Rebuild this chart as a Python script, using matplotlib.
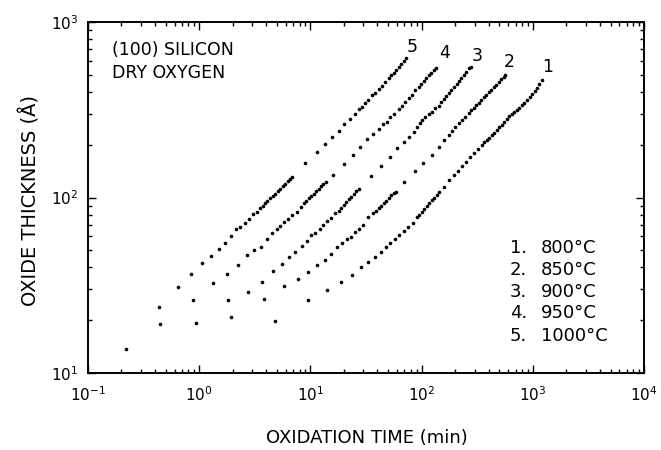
import matplotlib
matplotlib.use("Agg")
import matplotlib.pyplot as plt
from matplotlib.ticker import LogLocator, LogFormatterMathtext, NullFormatter

# ---- data: oxidation time (min) vs oxide thickness (Angstrom) ----
t1 = [4.81, 9.60, 14.2, 18.9, 23.8, 28.4, 33.3, 38.3, 43.4, 47.4, 52.3, 57.6, 63.0, 68.9, 75.9,
      83.7, 90.9, 95.4, 100, 106, 111, 117, 124, 130, 137, 143, 160, 175, 194, 211, 231, 251,
      275, 294, 320, 350, 367, 387, 407, 429, 452, 476, 501, 528, 556, 586, 617, 650, 684, 721,
      759, 800, 842, 887, 934, 984, 1036, 1091, 1148, 1211]
d1 = [19.9, 25.9, 29.7, 33.1, 36.1, 40.3, 43.1, 46.0, 49.1, 52.0, 55.2, 57.8, 61.1, 64.7, 67.6,
      71.3, 77.8, 80.0, 83.1, 86.4, 89.5, 93.0, 96.6, 100, 104, 107, 115, 126, 134, 142, 151, 160,
      171, 179, 188, 199, 206, 212, 219, 227, 234, 242, 251, 260, 271, 281, 291, 299, 307, 316,
      325, 336, 347, 358, 373, 388, 404, 422, 444, 466]

t2 = [1.93, 3.83, 5.79, 7.70, 9.60, 11.4, 13.4, 15.4, 17.3, 19.2, 21.3, 23.3, 25.3, 27.6, 30.0,
      33.3, 36.9, 39.1, 41.1, 43.4, 45.6, 48.1, 50.7, 53.3, 56.2, 58.6, 68.9, 87.8, 104, 124, 142,
      160, 175, 188, 201, 215, 231, 248, 265, 280, 295, 311, 328, 345, 363, 383, 403, 425, 447,
      471, 496, 522, 550, 568]
d2 = [20.8, 26.4, 31.2, 34.2, 37.7, 41.2, 44.0, 47.5, 52.0, 54.8, 57.8, 59.8, 63.4, 65.9, 69.7,
      77.8, 81.3, 84.3, 87.1, 90.0, 93.0, 96.1, 99.3, 103, 106, 108, 123, 142, 158, 175, 193,
      213, 227, 240, 251, 265, 277, 289, 302, 314, 325, 336, 347, 359, 372, 384, 397, 411, 425,
      440, 455, 471, 487, 497]

t3 = [0.934, 1.83, 2.75, 3.67, 4.62, 5.59, 6.47, 7.33, 8.37, 9.28, 10.1, 11.0, 12.1, 13.1, 14.2,
      15.4, 16.7, 17.9, 18.9, 19.9, 21.0, 22.1, 23.3, 24.5, 25.8, 27.1, 35.0, 43.1, 51.5, 60.0,
      68.9, 76.4, 84.7, 90.9, 95.9, 101, 108, 116, 124, 133, 142, 150, 158, 167, 176, 185, 195,
      206, 216, 228, 240, 253, 266, 276]
d3 = [19.3, 25.9, 29.0, 32.9, 38.1, 41.8, 45.6, 49.1, 52.9, 56.8, 61.1, 63.0, 66.2, 69.7, 73.7,
      76.1, 81.3, 84.1, 87.7, 90.8, 94.2, 97.7, 101, 105, 109, 112, 133, 151, 171, 191,
      208, 222, 237, 251, 265, 277, 289, 299, 308, 322, 334, 348, 362, 377, 393, 409, 426,
      444, 462, 481, 501, 522, 544, 556]

t4 = [0.445, 0.887, 1.32, 1.77, 2.22, 2.67, 3.11, 3.57, 4.05, 4.49, 4.98, 5.33, 5.79, 6.34, 6.88,
      7.54, 8.20, 8.69, 9.15, 9.63, 10.1, 10.7, 11.3, 11.9, 12.5, 13.1, 13.7, 16.1, 20.1, 24.1,
      28.1, 32.6, 36.9, 41.0, 44.9, 48.8, 52.3, 56.8, 62.1, 66.6, 71.3, 76.4, 82.0, 87.8, 94.0,
      99.4, 105, 110, 116, 122, 129, 134]
d4 = [18.9, 26.2, 32.6, 36.5, 41.4, 46.9, 50.2, 52.5, 57.8, 62.5, 66.2, 69.1, 72.2, 75.4, 79.2,
      83.0, 88.6, 92.5, 95.5, 98.7, 102, 105, 109, 112, 116, 120, 123, 134, 155, 175,
      195, 215, 229, 245, 261, 270, 286, 299, 318, 334, 349, 367, 384, 410, 428,
      444, 461, 478, 496, 514, 533, 547]

t5 = [0.219, 0.436, 0.647, 0.837, 1.06, 1.28, 1.50, 1.72, 1.94, 2.14, 2.34, 2.58, 2.79, 3.06, 3.29,
      3.52, 3.71, 3.91, 4.11, 4.34, 4.57, 4.81, 5.06, 5.33, 5.62, 5.92, 6.23, 6.56, 6.84, 8.96,
      11.4, 13.6, 15.8, 17.9, 20.1, 22.5, 25.3, 27.1, 29.0, 31.1, 33.3, 35.7, 38.3, 41.0, 44.0,
      47.1, 50.4, 53.3, 56.2, 59.2, 62.3, 65.6, 69.2, 72.8]
d5 = [13.7, 23.7, 30.9, 36.8, 42.4, 46.6, 50.7, 54.8, 60.5, 65.9, 67.9, 71.3, 75.2, 80.2, 83.0,
      86.7, 89.8, 92.5, 95.7, 98.7, 102, 105, 109, 112, 116, 120, 124, 128, 131, 158,
      182, 202, 220, 240, 261, 279, 299, 318, 329, 344, 359, 384, 392, 414, 432,
      457, 478, 497, 515, 536, 557, 579, 603, 627]

curve_numbers = ["1", "2", "3", "4", "5"]
curve_label_t = [1349, 608, 316, 161, 82]
curve_label_d = [552, 594, 640, 663, 723]
temperatures = ["800°C", "850°C", "900°C", "950°C", "1000°C"]
header_lines = ["(100) SILICON", "DRY OXYGEN"]

# ---- figure ----
plt.rcParams['font.family'] = ['DejaVu Sans']
fig = plt.figure(figsize=(6.61, 4.5), dpi=100)
ax = fig.add_axes([88 / 661, 1 - 373 / 450, 556 / 661, 351 / 450])

series = [(t1, d1), (t2, d2), (t3, d3), (t4, d4), (t5, d5)]
for t, d in series:
    ax.plot(t, d, linestyle='none', marker='o', ms=2.6, mfc='black', mec='black', mew=0)

ax.set_xscale('log')
ax.set_yscale('log')
ax.set_xlim(0.1, 1e4)
ax.set_ylim(10, 1000)

ax.xaxis.set_major_locator(LogLocator(base=10, numticks=10))
ax.yaxis.set_major_locator(LogLocator(base=10, numticks=10))
ax.xaxis.set_minor_locator(LogLocator(base=10, subs=range(2, 10), numticks=20))
ax.yaxis.set_minor_locator(LogLocator(base=10, subs=range(2, 10), numticks=20))
ax.xaxis.set_major_formatter(LogFormatterMathtext())
ax.yaxis.set_major_formatter(LogFormatterMathtext())
ax.xaxis.set_minor_formatter(NullFormatter())
ax.yaxis.set_minor_formatter(NullFormatter())

ax.tick_params(which='both', direction='in', top=True, right=True, width=1.0, colors='black')
ax.tick_params(which='major', length=5.5, labelsize=11)
ax.tick_params(which='minor', length=3)
ax.tick_params(axis='x', which='major', pad=9)
ax.tick_params(axis='y', which='major', pad=7)
for s in ax.spines.values():
    s.set_linewidth(1.4)

# curve numbers
for lab, tx, dy in zip(curve_numbers, curve_label_t, curve_label_d):
    ax.text(tx, dy, lab, ha='center', va='center', fontsize=12.5)

# header text
ax.text(0.043, 0.920, header_lines[0], transform=ax.transAxes, ha='left', va='center', fontsize=12.5)
ax.text(0.043, 0.855, header_lines[1], transform=ax.transAxes, ha='left', va='center', fontsize=12.5)

# temperature key
key_y = [0.355, 0.293, 0.232, 0.170, 0.105]
for num, temp, yy in zip(curve_numbers, temperatures, key_y):
    ax.text(0.790, yy, num + ".", transform=ax.transAxes, ha='right', va='center', fontsize=13)
    ax.text(0.814, yy, temp, transform=ax.transAxes, ha='left', va='center', fontsize=13)

fig.text(367 / 661, 1 - 438 / 450, "OXIDATION TIME (min)", ha='center', va='center', fontsize=13)
fig.text(30 / 661, 1 - 201 / 450, "OXIDE THICKNESS (Å)", ha='center', va='center',
         rotation=90, fontsize=14)

fig.savefig("out.png", dpi=100)
